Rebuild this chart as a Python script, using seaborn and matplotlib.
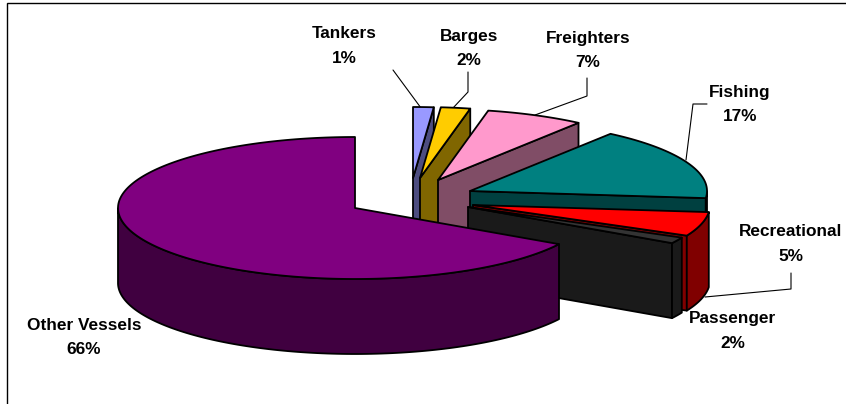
import numpy as np
import matplotlib
matplotlib.use("Agg")
import matplotlib.pyplot as plt
from matplotlib.patches import Polygon
import seaborn as sns

# Data
categories = ["Tankers", "Barges", "Freighters", "Fishing", "Recreational", "Passenger", "Other Vessels"]
shares = [1.4, 2.0, 6.7, 16.5, 5.5, 1.4, 66.5]      # slice sizes
pct_labels = ["1%", "2%", "7%", "17%", "5%", "2%", "66%"]
top_colors = ["#9999FF", "#FFCC00", "#FF99CC", "#008080", "#FF0000", "#333333", "#800080"]

# Layout (pixel space of the figure)
apex_x = [413, 420, 438, 470, 473, 468, 355]
apex_y = [178, 178, 180, 191, 205, 207, 208]
RX, RY, DEPTH = 237, 71, 75
label_x = [344, 469, 588, 740, 791, 733, 84]
label_y = [34, 36, 38, 92, 232, 319, 325]
leaders = [
    [(421, 108), (393, 70)],
    [(453, 108), (468, 92), (468, 72)],
    [(535, 115), (587, 96), (587, 78)],
    [(686, 160), (693, 104), (707, 104)],
    [(705, 297), (791, 289), (791, 273)],
]

sns.set_theme(style="white")
palette = sns.color_palette(top_colors)
side_palette = [tuple(c * 0.5 for c in col) for col in palette]

fig = plt.figure(figsize=(8.46, 4.04), dpi=100, facecolor="white")
ax = fig.add_axes([0, 0, 1, 1])
ax.set_xlim(0, 846)
ax.set_ylim(404, 0)
ax.axis("off")

edges = np.cumsum([0] + shares) / 100 * 2 * np.pi   # clockwise angle from the top


def rim(cx, cy, a):
    return np.column_stack([cx + RX * np.sin(a), cy - RY * np.cos(a)])


lw = 1.3
style = dict(edgecolor="black", linewidth=lw, joinstyle="round")
for i, name in enumerate(categories):
    cx, cy = apex_x[i], apex_y[i]
    a = np.linspace(edges[i], edges[i + 1], 200)
    arc = rim(cx, cy, a)
    apex = np.array([[cx, cy]])
    down = np.array([0, DEPTH])
    z = 2 + 2 * i
    # flat cut face at the clockwise end of the slice
    end = arc[-1:]
    if name != "Other Vessels":
        ax.add_patch(Polygon(np.vstack([apex, end, end + down, apex + down]),
                             facecolor=side_palette[i], zorder=z, **style))
    # outer wall: only the part on the near half of the ellipse
    front = arc[np.cos(a) <= 0.0]
    if len(front) > 1:
        ax.add_patch(Polygon(np.vstack([front, (front + down)[::-1]]),
                             facecolor=side_palette[i], zorder=z + 0.5, **style))
    # top face
    ax.add_patch(Polygon(np.vstack([apex, arc]), facecolor=palette[i], zorder=z + 1, **style))

for pts in leaders:
    xs, ys = zip(*pts)
    ax.plot(xs, ys, color="black", lw=0.8, zorder=1)

for name, pct, x, y in zip(categories, pct_labels, label_x, label_y):
    ax.text(x, y, name, ha="center", va="center", fontsize=12.4, fontweight="bold",
            family="Liberation Sans", color="black", zorder=30)
    ax.text(x, y + 24.5, pct, ha="center", va="center", fontsize=12.4, fontweight="bold",
            family="Liberation Sans", color="black", zorder=30)

# Chart-area frame: only the top and left edges fall inside the picture
ax.plot([7, 7, 846], [404, 2.5, 2.5], color="black", lw=1.0, zorder=40, solid_joinstyle="miter")

fig.savefig("out.png", dpi=100, facecolor="white")
